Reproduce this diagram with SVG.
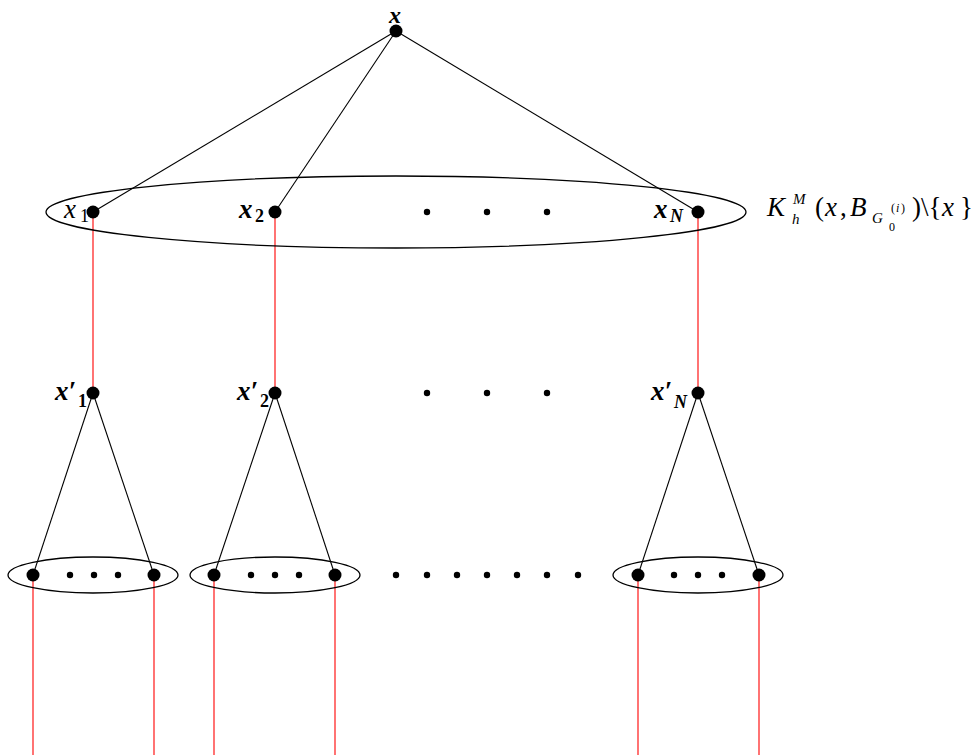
<svg xmlns="http://www.w3.org/2000/svg" width="979" height="755" viewBox="0 0 979 755">
<style>
.edge{stroke:#000;stroke-width:1.1;fill:none}
.red{stroke:#ff0000;stroke-width:1.1;fill:none}
.ell{stroke:#000;stroke-width:1.3;fill:none}
.node{fill:#000}
.dot{fill:#000}
.lbl{font-family:"Liberation Serif","Times New Roman",serif;font-style:italic;font-size:27px;fill:#000}
.b{font-weight:bold}
.up{font-style:normal}
.sm{font-size:18px}
.ss{font-size:15px}
.xs{font-size:12px}
</style>
<rect width="979" height="755" fill="#fff"/>
<g id="connectors">
<line class="edge" x1="396" y1="31" x2="93" y2="212"/>
<line class="edge" x1="396" y1="31" x2="275" y2="212"/>
<line class="edge" x1="396" y1="31" x2="698" y2="212"/>
<line class="red" x1="93" y1="212" x2="93" y2="393"/>
<line class="red" x1="275" y1="212" x2="275" y2="393"/>
<line class="red" x1="698" y1="212" x2="698" y2="393"/>
<line class="edge" x1="93" y1="393" x2="33" y2="575"/>
<line class="edge" x1="93" y1="393" x2="154" y2="575"/>
<line class="edge" x1="275" y1="393" x2="214" y2="575"/>
<line class="edge" x1="275" y1="393" x2="335" y2="575"/>
<line class="edge" x1="698" y1="393" x2="638" y2="575"/>
<line class="edge" x1="698" y1="393" x2="759" y2="575"/>
<line class="red" x1="33" y1="575" x2="33" y2="755"/>
<line class="red" x1="154" y1="575" x2="154" y2="755"/>
<line class="red" x1="214" y1="575" x2="214" y2="755"/>
<line class="red" x1="335" y1="575" x2="335" y2="755"/>
<line class="red" x1="638" y1="575" x2="638" y2="755"/>
<line class="red" x1="759" y1="575" x2="759" y2="755"/>
</g>
<g id="set-K">
<ellipse class="ell" cx="396" cy="212" rx="350" ry="36"/>
<text class="lbl"><tspan x="767" y="216">K</tspan><tspan class="ss" x="793" y="204">M</tspan><tspan class="ss" x="792" y="224">h</tspan><tspan class="up" x="815" y="216">(</tspan><tspan x="825" y="216">x</tspan><tspan class="up" x="840" y="216">,</tspan><tspan x="850" y="216">B</tspan><tspan class="ss" x="872" y="223">G</tspan><tspan class="xs up" x="889" y="231">0</tspan><tspan class="xs up" x="891" y="212">(</tspan><tspan class="xs" x="896" y="212">i</tspan><tspan class="xs up" x="901" y="212">)</tspan><tspan class="up" x="912" y="216">)\{</tspan><tspan x="942" y="216">x</tspan><tspan class="up" x="960" y="216">}</tspan></text>
</g>
<g id="node-x">
<circle class="node" cx="396" cy="31" r="6.5"/>
<text class="lbl b" x="395" y="23" text-anchor="middle" style="font-size:24px">x</text>
</g>
<g id="node-x1">
<circle class="node" cx="93" cy="212" r="6.5"/>
<text class="lbl"><tspan x="64" y="218">x</tspan><tspan class="sm up" x="80" y="222">1</tspan></text>
</g>
<g id="node-x2">
<circle class="node" cx="275" cy="212" r="6.5"/>
<text class="lbl b"><tspan x="239" y="218">x</tspan><tspan class="sm up" x="255" y="222">2</tspan></text>
</g>
<g id="level1-dots">
<circle class="dot" cx="427" cy="212" r="3.2"/>
<circle class="dot" cx="487" cy="212" r="3.2"/>
<circle class="dot" cx="547" cy="212" r="3.2"/>
</g>
<g id="node-xN">
<circle class="node" cx="698" cy="212" r="6.5"/>
<text class="lbl b"><tspan x="654" y="218">x</tspan><tspan class="sm" x="670" y="222">N</tspan></text>
</g>
<g id="node-x1p">
<circle class="node" cx="93" cy="393" r="6.5"/>
<text class="lbl b"><tspan x="55" y="400">x′</tspan><tspan class="sm up" x="78" y="407">1</tspan></text>
</g>
<g id="node-x2p">
<circle class="node" cx="275" cy="393" r="6.5"/>
<text class="lbl b"><tspan x="237" y="400">x′</tspan><tspan class="sm up" x="260" y="407">2</tspan></text>
</g>
<g id="level2-dots">
<circle class="dot" cx="427" cy="393" r="3.2"/>
<circle class="dot" cx="487" cy="393" r="3.2"/>
<circle class="dot" cx="547" cy="393" r="3.2"/>
</g>
<g id="node-xNp">
<circle class="node" cx="698" cy="393" r="6.5"/>
<text class="lbl b"><tspan x="651" y="400">x′</tspan><tspan class="sm" x="674" y="408">N</tspan></text>
</g>
<g id="group-1">
<ellipse class="ell" cx="93" cy="575" rx="85" ry="18"/>
<circle class="node" cx="33" cy="575" r="6.5"/>
<circle class="dot" cx="70" cy="575" r="3.2"/>
<circle class="dot" cx="94" cy="575" r="3.2"/>
<circle class="dot" cx="118" cy="575" r="3.2"/>
<circle class="node" cx="154" cy="575" r="6.5"/>
</g>
<g id="group-2">
<ellipse class="ell" cx="275" cy="575" rx="85" ry="18"/>
<circle class="node" cx="214" cy="575" r="6.5"/>
<circle class="dot" cx="251" cy="575" r="3.2"/>
<circle class="dot" cx="275" cy="575" r="3.2"/>
<circle class="dot" cx="299" cy="575" r="3.2"/>
<circle class="node" cx="335" cy="575" r="6.5"/>
</g>
<g id="level3-dots">
<circle class="dot" cx="396" cy="575" r="3.2"/>
<circle class="dot" cx="427" cy="575" r="3.2"/>
<circle class="dot" cx="457" cy="575" r="3.2"/>
<circle class="dot" cx="487" cy="575" r="3.2"/>
<circle class="dot" cx="517" cy="575" r="3.2"/>
<circle class="dot" cx="547" cy="575" r="3.2"/>
<circle class="dot" cx="578" cy="575" r="3.2"/>
</g>
<g id="group-N">
<ellipse class="ell" cx="698" cy="575" rx="85" ry="18"/>
<circle class="node" cx="638" cy="575" r="6.5"/>
<circle class="dot" cx="674" cy="575" r="3.2"/>
<circle class="dot" cx="698" cy="575" r="3.2"/>
<circle class="dot" cx="722" cy="575" r="3.2"/>
<circle class="node" cx="759" cy="575" r="6.5"/>
</g>
</svg>
